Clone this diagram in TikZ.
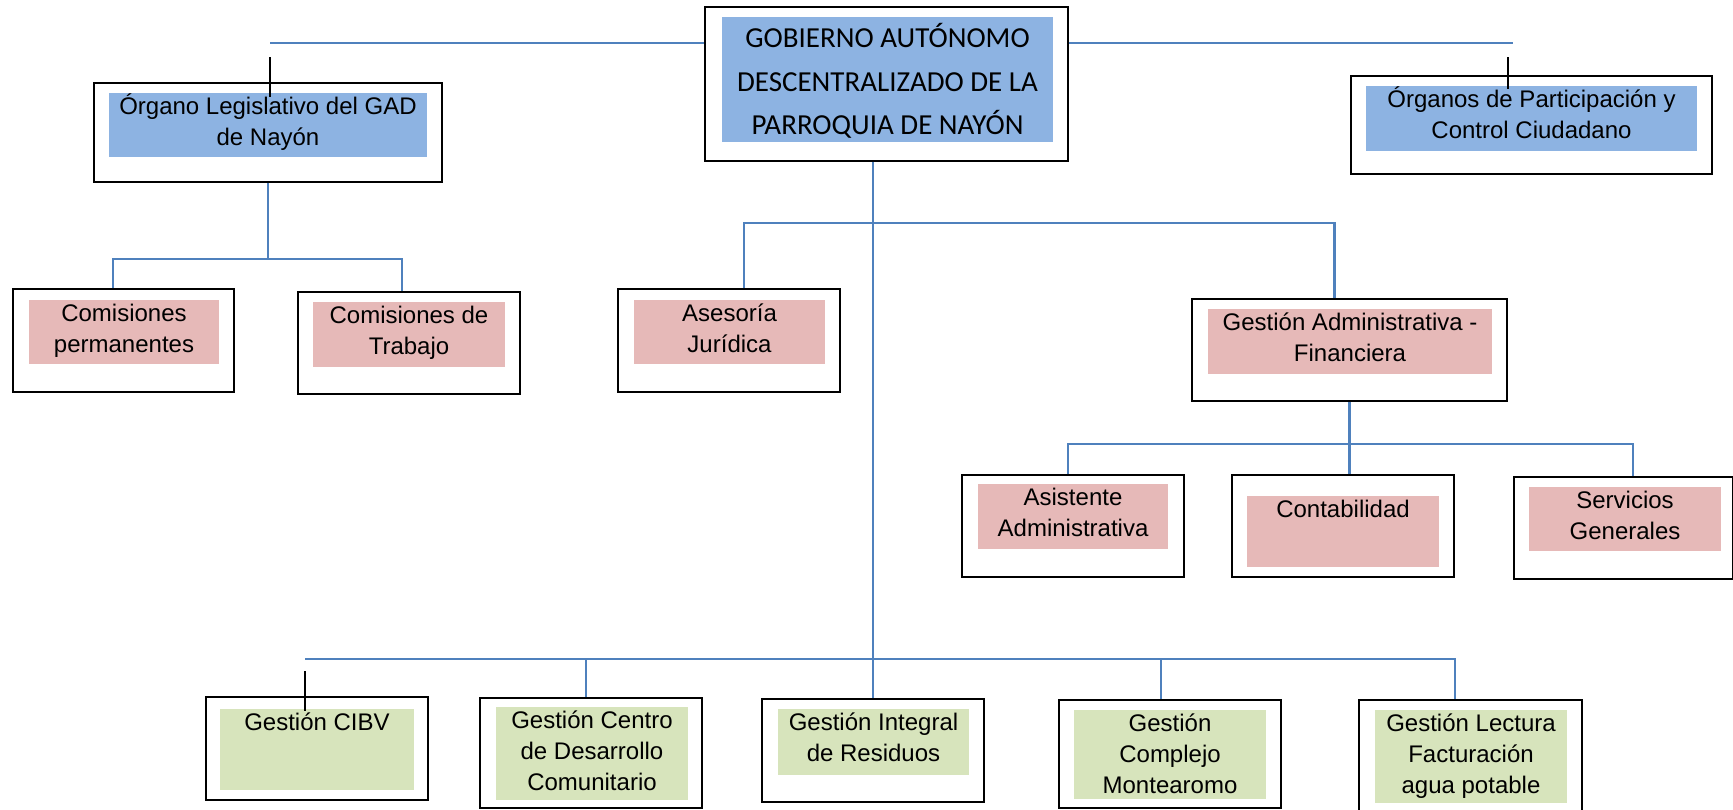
\documentclass[tikz,border=0pt]{standalone}
\usepackage{fontspec}
\setmainfont{Liberation Sans}
\newfontfamily\calibri{Carlito}
\usepackage{xcolor}
\usetikzlibrary{fit}
\definecolor{azulLinea}{HTML}{4F81BD}
\definecolor{azulCaja}{HTML}{8DB3E2}
\definecolor{rosaCaja}{HTML}{E6B9B8}
\definecolor{verdeCaja}{HTML}{D7E4BC}

\begin{document}
\begin{tikzpicture}[x=0.5pt, y=-0.5pt,
    marco/.style={draw=black, line width=0.8pt, fill=white, inner sep=0pt},
    relleno/.style={fill=#1, inner sep=0pt},
    texto/.style={anchor=north, align=center, inner sep=0pt, font=\fontsize{12}{15.5}\selectfont},
    linea/.style={draw=azulLinea, line width=1.1pt},
    marca/.style={draw=black, line width=1pt}]
    \useasboundingbox (0,0) rectangle (1733,809);

    % Nivel directivo
    \node[marco, fit={(705,7) (1068,161)}] (gob) {};
    \node[relleno=azulCaja, fit={(722,17) (1053,142)}] (gobR) {};
    \node[texto, font=\calibri\fontsize{14.5}{21.8}\selectfont] (gobT) at (gobR.north) {\strut GOBIERNO AUTÓNOMO\\DESCENTRALIZADO DE LA\\PARROQUIA DE NAYÓN};

    \node[marco, fit={(94,83) (442,182)}] (leg) {};
    \node[relleno=azulCaja, fit={(109,93) (427,157)}] (legR) {};
    \node[texto] (legT) at (legR.north) {\strut Órgano Legislativo del GAD\\de Nayón};

    \node[marco, fit={(1351,76) (1712,174)}] (opc) {};
    \node[relleno=azulCaja, fit={(1366,86) (1697,151)}] (opcR) {};
    \node[texto] (opcT) at (opcR.north) {\strut Órganos de Participación y\\Control Ciudadano};

    % Comisiones y asesoría
    \node[marco, fit={(13,289) (234,392)}] (cper) {};
    \node[relleno=rosaCaja, fit={(29,300) (219,364)}] (cperR) {};
    \node[texto] (cperT) at (cperR.north) {\strut Comisiones\\permanentes};

    \node[marco, fit={(298,292) (520,394)}] (ctra) {};
    \node[relleno=rosaCaja, fit={(313,302) (505,367)}] (ctraR) {};
    \node[texto] (ctraT) at (ctraR.north) {\strut Comisiones de\\Trabajo};

    \node[marco, fit={(618,289) (840,392)}] (ase) {};
    \node[relleno=rosaCaja, fit={(634,300) (825,364)}] (aseR) {};
    \node[texto] (aseT) at (aseR.north) {\strut Asesoría\\Jurídica};

    \node[marco, fit={(1192,299) (1507,401)}] (gaf) {};
    \node[relleno=rosaCaja, fit={(1208,309) (1492,374)}] (gafR) {};
    \node[texto] (gafT) at (gafR.north) {\strut Gestión Administrativa -\\Financiera};

    % Unidades administrativas
    \node[marco, fit={(962,475) (1184,577)}] (asis) {};
    \node[relleno=rosaCaja, fit={(978,484) (1168,549)}] (asisR) {};
    \node[texto] (asisT) at (asisR.north) {\strut Asistente\\Administrativa};

    \node[marco, fit={(1232,475) (1454,577)}] (cont) {};
    \node[relleno=rosaCaja, fit={(1247,496) (1439,567)}] (contR) {};
    \node[texto] (contT) at (contR.north) {\strut Contabilidad};

    \node[marco, fit={(1514,477) (1733,579)}] (serv) {};
    \node[relleno=rosaCaja, fit={(1529,487) (1721,551)}] (servR) {};
    \node[texto] (servT) at (servR.north) {\strut Servicios\\Generales};

    % Gestiones operativas
    \node[marco, fit={(206,697) (428,800)}] (cibv) {};
    \node[relleno=verdeCaja, fit={(220,709) (414,790)}] (cibvR) {};
    \node[texto] (cibvT) at (cibvR.north) {\strut Gestión CIBV};

    \node[marco, fit={(480,698) (702,808)}] (gcdc) {};
    \node[relleno=verdeCaja, fit={(496,707) (688,800)}] (gcdcR) {};
    \node[texto] (gcdcT) at (gcdcR.north) {\strut Gestión Centro\\de Desarrollo\\Comunitario};

    \node[marco, fit={(762,699) (984,802)}] (gir) {};
    \node[relleno=verdeCaja, fit={(778,709) (969,775)}] (girR) {};
    \node[texto] (girT) at (girR.north) {\strut Gestión Integral\\de Residuos};

    \node[marco, fit={(1059,700) (1281,808)}] (gcm) {};
    \node[relleno=verdeCaja, fit={(1074,710) (1266,799)}] (gcmR) {};
    \node[texto] (gcmT) at (gcmR.north) {\strut Gestión\\Complejo\\Montearomo};

    \node[marco, fit={(1359,700) (1582,811)}] (glf) {};
    \node[relleno=verdeCaja, fit={(1375,710) (1567,803)}] (glfR) {};
    \node[texto] (glfT) at (glfR.north) {\strut Gestión Lectura\\Facturación\\agua potable};

    % Puntos de las ramas
    \coordinate (lineaIzq) at (270,43);
    \coordinate (lineaDer) at (1513,43);
    \coordinate (ramaLeg) at (268,259);
    \coordinate (rama) at (874,223);
    \coordinate (ramaGaf) at (1350,444);
    \coordinate (ramaInf) at (874,659);
    \coordinate (barraIzq) at (305,659);
    \coordinate (marcaLeg) at (270,57);
    \coordinate (marcaOpc) at (1508,57);
    \coordinate (marcaCibv) at (305,671);

    % Conectores
    \draw[linea] (lineaIzq) -- (gob.west |- lineaIzq);
    \draw[linea] (gob.east |- lineaDer) -- (lineaDer);
    \draw[linea] (gir.north |- gob.south) -- (gir.north);
    \draw[linea] ([xshift=7.5pt]ase.north) |- (rama) -| ([xshift=-7.5pt]gaf.north);
    \draw[linea] (leg.south) -- (ramaLeg);
    \draw[linea] ([xshift=-5.25pt]cper.north) |- (ramaLeg) -| ([xshift=-3.5pt]ctra.north);
    \draw[linea] (gaf.south) -- (gaf.south |- cont.north);
    \draw[linea] ([xshift=-2.5pt]asis.north) |- (ramaGaf) -| ([xshift=4.75pt]serv.north);
    \draw[linea] (barraIzq) -- (ramaInf);
    \draw[linea] ([xshift=-2.5pt]gcdc.north) |- (ramaInf);
    \draw[linea] ([xshift=-4.5pt]gcm.north) |- (ramaInf);
    \draw[linea] ([xshift=-7.75pt]glf.north) |- (ramaInf);

    % Marcas negras
    \draw[marca] (marcaLeg) -- ++(0,40);
    \draw[marca] (marcaOpc) -- ++(0,32);
    \draw[marca] (marcaCibv) -- ++(0,40);
\end{tikzpicture}
\end{document}
